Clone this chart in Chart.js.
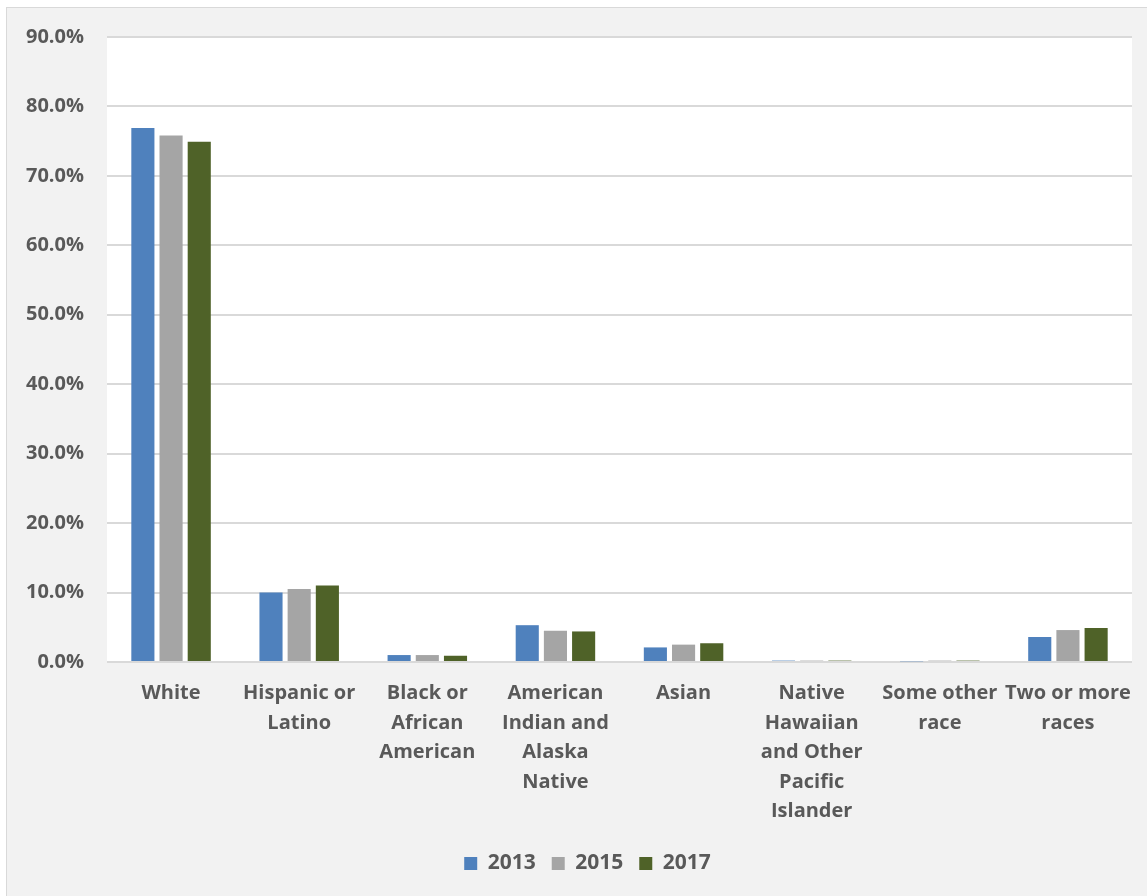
<!DOCTYPE html>
<html lang="en">
<head>
    <meta charset="UTF-8">
    <title>Race and Ethnicity 2013-2017</title>
    <style>
        body {
            margin: 0;
            background-color: #ffffff;
        }
        .frame {
            position: absolute;
            left: 6px;
            top: 7px;
            width: 1141px;
            height: 889px;
            background-color: #f2f2f2;
            border-left: 1px solid #d9d9d9;
            border-top: 1px solid #d9d9d9;
        }
    </style>
</head>
<body>
    <div class="frame">
        <canvas id="chart" width="1140" height="888"></canvas>
    </div>

    <script src="https://cdn.jsdelivr.net/npm/chart.js"></script>
    <script>
        // data
        const categories = [
            ['White'],
            ['Hispanic or', 'Latino'],
            ['Black or', 'African', 'American'],
            ['American', 'Indian and', 'Alaska', 'Native'],
            ['Asian'],
            ['Native', 'Hawaiian', 'and Other', 'Pacific', 'Islander'],
            ['Some other', 'race'],
            ['Two or more', 'races']
        ];
        const years = ['2013', '2015', '2017'];
        const values2013 = [76.9, 10.0, 1.0, 5.3, 2.1, 0.2, 0.1, 3.6];
        const values2015 = [75.8, 10.5, 1.0, 4.5, 2.5, 0.2, 0.2, 4.6];
        const values2017 = [74.9, 11.0, 0.9, 4.4, 2.7, 0.2, 0.2, 4.9];
        const colors = ['#4f81bd', '#a5a5a5', '#4f6228'];

        const textColor = '#595959';
        const fontFamily = '"Open Sans", "Liberation Sans", sans-serif';

        // white plot area on the grey background
        const plotBackground = {
            id: 'plotBackground',
            beforeDraw(chart) {
                const a = chart.chartArea;
                const c = chart.ctx;
                c.save();
                c.fillStyle = '#ffffff';
                c.fillRect(a.left, a.top, a.right - a.left, a.bottom - a.top);
                c.restore();
            }
        };

        // legend in the original sits a bit right of the canvas centre
        const legendShift = {
            id: 'legendShift',
            afterUpdate(chart) {
                const lg = chart.legend;
                lg.left += 18;
                lg.right += 18;
                lg.adjustHitBoxes();
            }
        };

        const ctx = document.getElementById('chart').getContext('2d');
        new Chart(ctx, {
            type: 'bar',
            data: {
                labels: categories,
                datasets: [values2013, values2015, values2017].map((vals, i) => ({
                    label: years[i],
                    data: vals,
                    backgroundColor: colors[i],
                    borderColor: colors[i],
                    borderWidth: 0,
                    categoryPercentage: 0.66,
                    barPercentage: 0.82
                }))
            },
            options: {
                responsive: false,
                animation: false,
                layout: {
                    padding: { left: 0, right: 15, top: 0, bottom: 12 }
                },
                plugins: {
                    legend: {
                        position: 'bottom',
                        labels: {
                            color: textColor,
                            font: { family: fontFamily, size: 21, weight: 'bold' },
                            boxWidth: 13,
                            boxHeight: 13,
                            padding: 16
                        }
                    },
                    tooltip: { enabled: false }
                },
                scales: {
                    x: {
                        grid: { display: false },
                        border: { display: false },
                        ticks: {
                            color: textColor,
                            font: { family: fontFamily, size: 20, weight: 'bold', lineHeight: 1.475 },
                            padding: 9,
                            maxRotation: 0,
                            autoSkip: false
                        },
                        afterFit(scale) { scale.height = 175; }
                    },
                    y: {
                        min: 0,
                        max: 90,
                        grid: { color: '#d9d9d9', lineWidth: 2, drawTicks: false },
                        border: { display: false },
                        ticks: {
                            stepSize: 10,
                            color: textColor,
                            font: { family: fontFamily, size: 20, weight: 'bold', lineHeight: 0.6 },
                            padding: 23,
                            callback: v => v.toFixed(1) + '%'
                        },
                        afterFit(scale) { scale.width = 100; }
                    }
                }
            },
            plugins: [plotBackground, legendShift]
        });
    </script>
</body>
</html>
